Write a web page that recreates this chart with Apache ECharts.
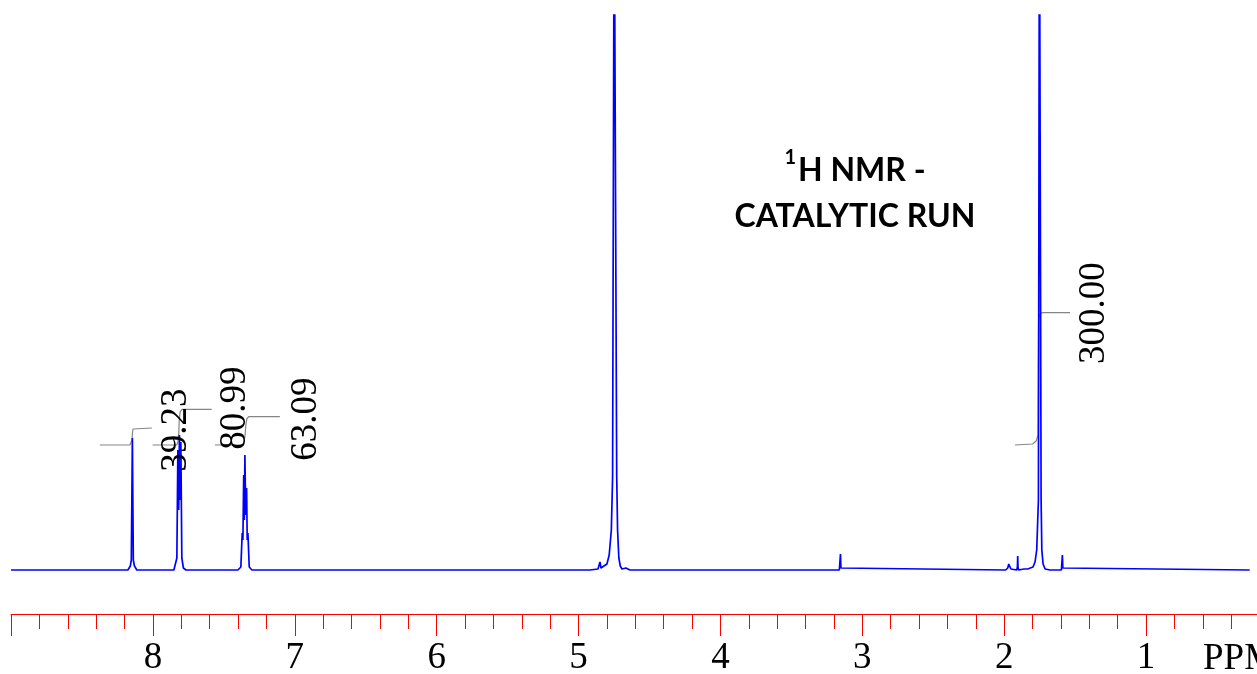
<!DOCTYPE html>
<html lang="en">

<head>
  <meta charset="UTF-8">
  <title>1H NMR - catalytic run</title>
  <script src="https://cdn.jsdelivr.net/npm/echarts@6.0.0/dist/echarts.min.js"></script>
  <style>
    body { margin: 0; background: #fff; }
    #main { width: 1257px; height: 674px; }
  </style>
</head>

<body>
  <div id="main"></div>

  <script>
    // spectrum pieces, [ppm, intensity]; baseline is 0
    var specEnds = [[9.0, 0], [0.27, 0]]
    var peak814 = [[8.176, 0], [8.159, 4], [8.152, 10], [8.1445, 132], [8.138, 10], [8.130, 4], [8.113, 0]]
    var peak782 = [[7.852, 0], [7.838, 2], [7.831, 12], [7.824, 120], [7.818, 60], [7.813, 135], [7.808, 70],
      [7.803, 128], [7.796, 12], [7.785, 2], [7.767, 0]]
    var peak735 = [[7.401, 0], [7.380, 3], [7.3705, 37], [7.3656, 30], [7.360, 95], [7.3557, 50], [7.3515, 115],
      [7.3459, 55], [7.3395, 82], [7.3353, 30], [7.3303, 37], [7.321, 3], [7.302, 0]]
    var peakHDO = [[4.92, 0], [4.863, 1], [4.849, 8], [4.842, 2], [4.821, 4], [4.800, 6], [4.784, 15], [4.769, 40],
      [4.760, 93], [4.749, 700], [4.738, 700], [4.731, 93], [4.725, 40], [4.716, 12], [4.706, 4], [4.694, 1],
      [4.666, 2], [4.638, 0]]
    var peak316 = [[3.162, 0], [3.157, 2], [3.154, 16], [3.151, 2], [3.146, 0]]
    var peak19x = [[1.99, 0], [1.975, 2], [1.968, 6], [1.964, 8], [1.960, 6], [1.953, 1], [1.912, 0], [1.907, 3],
      [1.905, 14], [1.903, 3], [1.898, 0], [1.86, 1], [1.846, 3], [1.835, 1]]
    var peak175 = [[1.832, 2], [1.797, 3], [1.783, 8], [1.771, 20], [1.759, 70], [1.752, 700], [1.745, 700],
      [1.740, 70], [1.735, 20], [1.726, 6], [1.712, 1], [1.677, 0]]
    var peak159 = [[1.597, 0], [1.593, 2], [1.590, 15], [1.587, 2], [1.583, 0]]

    // integral traces
    var integ1 = [[8.374, 125], [8.162, 125], [8.152, 126], [8.147, 130], [8.144, 137], [8.140, 141], [8.130, 142], [8.007, 142]]
    var integ2 = [[8.002, 125], [7.832, 125], [7.824, 128], [7.818, 135], [7.814, 150], [7.808, 158], [7.795, 160.7], [7.586, 160.7]]
    var integ3 = [[7.563, 125], [7.367, 125], [7.358, 128], [7.350, 135], [7.345, 145], [7.338, 151], [7.325, 153.3], [7.105, 153.3]]
    var integ4 = [[1.924, 125], [1.80, 126], [1.775, 129], [1.762, 135], [1.760, 200], [1.758, 250], [1.752, 255], [1.735, 257.3], [1.536, 257.3]]

    var integTexts = ['39.23', '80.99', '63.09', '300.00']
    var integAnchors = [[7.835, 140], [7.418, 162], [6.921, 151], [1.366, 257]]

    var spectrum = [].concat(specEnds, peak814, peak782, peak735, peakHDO, peak316, peak19x, peak175, peak159)
    spectrum.sort(function (a, b) { return b[0] - a[0] })

    var labelData = integAnchors.map(function (p, i) {
      return { value: p, name: integTexts[i] }
    })

    var integStyle = { color: '#858585', width: 1.2 }
    function integSeries(d) {
      return { type: 'line', data: d, symbol: 'none', lineStyle: integStyle, silent: true, z: 1 }
    }

    var serif = '"Liberation Serif", "Times New Roman", serif'

    var mCharts = echarts.init(document.getElementById('main'))
    var option = {
      animation: false,
      // ppm 9 at the left edge, ppm 0 past the right edge
      grid: { left: 11, width: 1277, top: 15, bottom: 60, outerBoundsMode: 'none', containLabel: false },
      xAxis: {
        type: 'value',
        inverse: true,
        min: 0,
        max: 9,
        interval: 1,
        axisLine: { onZero: false, lineStyle: { color: '#ff0000', width: 1 } },
        axisTick: { length: 22, lineStyle: { color: '#ff0000', width: 1 } },
        minorTick: { show: true, splitNumber: 5, length: 15, lineStyle: { color: '#ff0000', width: 1 } },
        splitLine: { show: false },
        axisLabel: {
          margin: 26,
          color: '#000',
          fontFamily: serif,
          fontSize: 37,
          formatter: function (v) { return (v >= 1 && v <= 8) ? String(v) : '' }
        }
      },
      yAxis: { type: 'value', show: false, min: -44, max: 555 },
      series: [
        {
          type: 'line',
          data: spectrum,
          symbol: 'none',
          lineStyle: { color: '#0000ff', width: 1.7 },
          z: 2
        },
        integSeries(integ1),
        integSeries(integ2),
        integSeries(integ3),
        integSeries(integ4),
        {
          type: 'scatter',
          data: labelData,
          symbolSize: 0,
          silent: true,
          itemStyle: { color: '#000', opacity: 1 },
          label: {
            show: true,
            position: 'inside',
            rotate: 90,
            formatter: '{b}',
            color: '#000',
            opacity: 1,
            textBorderWidth: 0,
            fontFamily: serif,
            fontSize: 37
          }
        }
      ],
      graphic: [
        {
          type: 'text',
          x: 855,
          y: 148,
          style: {
            text: '{sup|1}{b|H NMR -}\n{b|CATALYTIC RUN}',
            align: 'center',
            lineHeight: 46,
            rich: {
              b: { fontFamily: 'Lato', fontWeight: 'bold', fontSize: 32, lineHeight: 46, fill: '#000' },
              sup: { fontFamily: 'Lato', fontWeight: 'bold', fontSize: 20, lineHeight: 46, verticalAlign: 'top', padding: [0, 2, 14, 0], fill: '#000' }
            }
          }
        },
        {
          type: 'text',
          x: 1203,
          y: 641,
          style: { text: 'PPM', fontFamily: serif, fontSize: 37, fill: '#000' }
        }
      ]
    }
    mCharts.setOption(option)
  </script>
</body>

</html>
